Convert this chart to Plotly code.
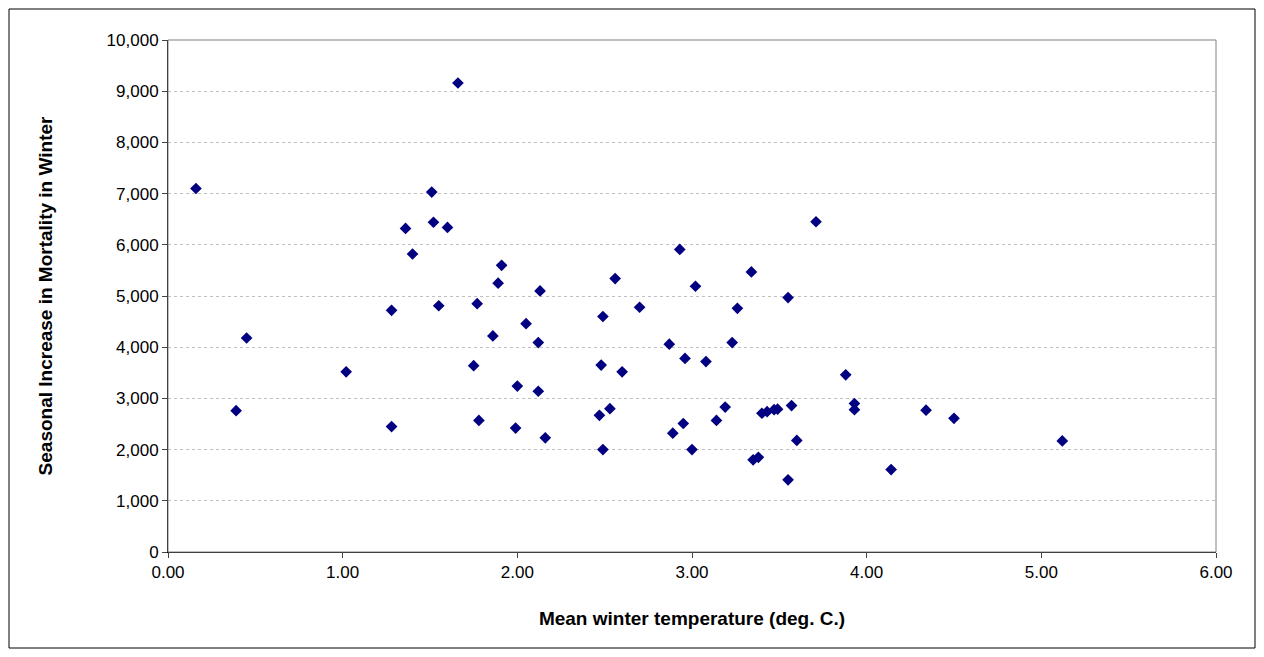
import plotly.graph_objects as go

temp = [0.16, 0.39, 0.45, 1.02, 1.28, 1.28, 1.36, 1.40, 1.51, 1.52, 1.55, 1.60, 1.66,
        1.75, 1.77, 1.78, 1.86, 1.89, 1.91, 1.99, 2.00, 2.05, 2.12, 2.12, 2.13, 2.16,
        2.47, 2.48, 2.49, 2.49, 2.53, 2.56, 2.60, 2.70, 2.87, 2.89, 2.93, 2.95, 2.96,
        3.00, 3.02, 3.08, 3.14, 3.19, 3.23, 3.26, 3.34, 3.35, 3.38, 3.40, 3.43, 3.47,
        3.49, 3.55, 3.55, 3.57, 3.60, 3.71, 3.88, 3.93, 3.93, 4.14, 4.34, 4.50, 5.12]
mortality = [7100, 2760, 4180, 3520, 4720, 2450, 6320, 5820, 7030, 6440, 4810, 6340, 9160,
             3640, 4850, 2570, 4220, 5250, 5600, 2420, 3240, 4460, 4090, 3140, 5100, 2230,
             2670, 3650, 4600, 2000, 2800, 5340, 3520, 4780, 4060, 2320, 5910, 2510, 3780,
             2000, 5190, 3720, 2570, 2830, 4090, 4760, 5470, 1800, 1850, 2710, 2740, 2780,
             2790, 4970, 1410, 2860, 2180, 6450, 3460, 2900, 2780, 1610, 2770, 2610, 2170]

# page has an 8px body margin, so the figure is 16px smaller than the window
W, H = 1248, 641
L, R, T, B = 160, 40, 32, 97
pw, ph = W - L - R, H - T - B

fig = go.Figure(go.Scatter(
    x=temp, y=mortality, mode="markers",
    marker=dict(symbol="diamond", size=9, color="#000080"),
))

fig.update_layout(
    width=W, height=H,
    margin=dict(l=L, r=R, t=T, b=B),
    paper_bgcolor="white", plot_bgcolor="white",
    font=dict(family="Liberation Sans, Arial", size=17, color="black"),
    showlegend=False,
    xaxis=dict(range=[0, 6], dtick=1, tickformat=".2f", showgrid=False,
               ticks="outside", ticklen=5, linecolor="black", zeroline=False,
               title=dict(text="<b>Mean winter temperature (deg. C.)</b>", font=dict(size=19),
                          standoff=30)),
    yaxis=dict(range=[0, 10000], dtick=1000, tickformat=",d", showgrid=True,
               gridcolor="#c0c0c0", griddash="dot", ticks="outside", ticklen=5,
               linecolor="black", zeroline=False,
               title=dict(text="<b>Seasonal Increase in Mortality in Winter</b>", font=dict(size=19),
                          standoff=48)),
    shapes=[
        dict(type="rect", xref="paper", yref="paper", x0=0, x1=1, y0=0, y1=1,
             line=dict(color="#808080", width=1)),
        dict(type="rect", xref="paper", yref="paper",
             x0=(1 - L) / pw, x1=(W - L - 1) / pw, y0=-(B - 1) / ph, y1=(H - B - 1) / ph,
             line=dict(color="black", width=1)),
    ],
)

fig.write_html("out.html")
